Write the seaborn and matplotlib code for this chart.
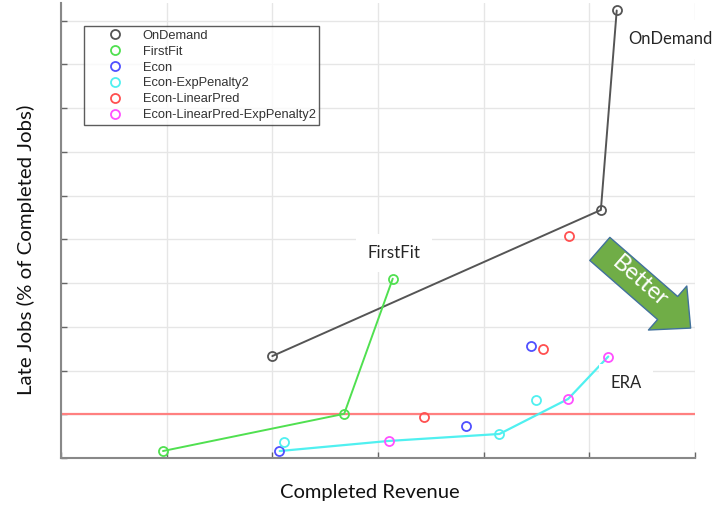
import pandas as pd
import seaborn as sns
import matplotlib.pyplot as plt
from matplotlib.lines import Line2D
import numpy as np

sns.set_theme(style="whitegrid")
plt.rcParams['font.family'] = ['Lato', 'DejaVu Sans']

policies = ['OnDemand', 'FirstFit', 'Econ', 'Econ-ExpPenalty2',
            'Econ-LinearPred', 'Econ-LinearPred-ExpPenalty2']
colors = ['#555555', '#50e050', '#5050ff', '#50f0f0', '#ff5050', '#ff50ff']
palette_dict = {p: c for p, c in zip(policies, colors)}

# (grid units, no tick labels in the original)
ondemand_x = [2.00, 5.11, 5.26]
ondemand_y = [2.33, 5.67, 10.23]
firstfit_x = [0.965, 2.68, 3.14]
firstfit_y = [0.16, 1.01, 4.10]
econ_x = [2.06, 3.83, 4.45]
econ_y = [0.15, 0.74, 2.55]
exppen_x = [2.11, 4.15, 4.50]
exppen_y = [0.37, 0.55, 1.33]
linpred_x = [3.44, 4.56, 4.81]
linpred_y = [0.94, 2.49, 5.08]
linpred_exp_x = [3.10, 4.80, 5.18]
linpred_exp_y = [0.39, 1.35, 2.32]
era_x = [2.07, 3.10, 4.15, 4.80, 5.18]
era_y = [0.16, 0.39, 0.55, 1.35, 2.32]
deadline_y = 1.0

xs = [ondemand_x, firstfit_x, econ_x, exppen_x, linpred_x, linpred_exp_x]
ys = [ondemand_y, firstfit_y, econ_y, exppen_y, linpred_y, linpred_exp_y]
df = pd.concat([pd.DataFrame({'Revenue': x, 'Late': y, 'Policy': p})
                for p, x, y in zip(policies, xs, ys)], ignore_index=True)
era = pd.DataFrame({'Revenue': era_x, 'Late': era_y})

fig = plt.figure(figsize=(7.13, 5.07), dpi=100)
ax = fig.add_axes([0.0856, 0.0966, 0.889, 0.8974])

ax.grid(color='#e6e6e6', linewidth=1, zorder=0)

ax.axhline(deadline_y, color='#ff8080', linewidth=1.6, zorder=2)

sns.lineplot(data=era, x='Revenue', y='Late', color='#50f0f0', linewidth=1.6,
             sort=False, ax=ax, zorder=3)

lined = df[df['Policy'].isin(['OnDemand', 'FirstFit'])]
sns.lineplot(data=lined, x='Revenue', y='Late', hue='Policy', palette=palette_dict,
             sort=False, linewidth=1.4, ax=ax, legend=False, zorder=3)

for p in policies:
    sub = df[df['Policy'] == p]
    ax.plot(sub['Revenue'], sub['Late'], linestyle='none', marker='o', markersize=6.5,
            markerfacecolor='none', markeredgecolor=palette_dict[p],
            markeredgewidth=1.3, zorder=4)

ax.set_xlim(0, 6)
ax.set_ylim(0, 10.4)
ax.set_xticks(np.arange(0, 7))
ax.set_yticks(np.arange(0, 11))
ax.tick_params(direction='in', length=4, width=1, colors='#666666',
               labelleft=False, labelbottom=False, left=True, bottom=True)
for s in ['top', 'right']:
    ax.spines[s].set_visible(False)
for s in ['left', 'bottom']:
    ax.spines[s].set_color('#888888')
    ax.spines[s].set_linewidth(1.5)

ax.set_xlabel('Completed Revenue', fontsize=14.5, color='#111111')
ax.set_ylabel('Late Jobs (% of Completed Jobs)', fontsize=14.7, color='#111111')
ax.xaxis.set_label_coords(0.487, -0.058)
ax.yaxis.set_label_coords(-0.041, 0.457)

box = dict(facecolor='white', edgecolor='none', pad=8)
ax.text(5.37, 9.57, 'OnDemand', fontsize=12, ha='left', va='center', bbox=box, zorder=5)
ax.text(2.90, 4.69, 'FirstFit', fontsize=12.2, ha='left', va='center', bbox=box, zorder=5)
ax.text(5.20, 1.72, 'ERA', fontsize=12, ha='left', va='center', bbox=box, zorder=5)

# "Better" block arrow
ax.annotate('', xy=(5.96, 2.97), xytext=(5.10, 4.78),
            arrowprops=dict(arrowstyle='simple,head_length=2.2,head_width=4.2,tail_width=2.2',
                            mutation_scale=10, facecolor='#70ad47', edgecolor='#41719c',
                            linewidth=1, shrinkA=0, shrinkB=0), zorder=6)
ax.text(5.48, 4.03, 'Better', rotation=-41, rotation_mode='anchor', ha='center',
        va='center', fontsize=17, color='white', zorder=7)

handles = [Line2D([0], [0], linestyle='none', marker='o', markersize=6.5,
                  markerfacecolor='none', markeredgecolor=palette_dict[p],
                  markeredgewidth=1.3, label=p) for p in policies]
leg = ax.legend(handles=handles, loc='upper left', bbox_to_anchor=(0.036, 0.95),
                borderaxespad=0, fancybox=False, frameon=True, handlelength=4.2,
                handletextpad=0.05, borderpad=0.3, labelspacing=0.3,
                prop={'family': 'Liberation Sans', 'size': 9.3})
leg.get_frame().set_edgecolor('#333333')
leg.get_frame().set_linewidth(1)
for t in leg.get_texts():
    t.set_color('#333333')

fig.savefig('out.png')
